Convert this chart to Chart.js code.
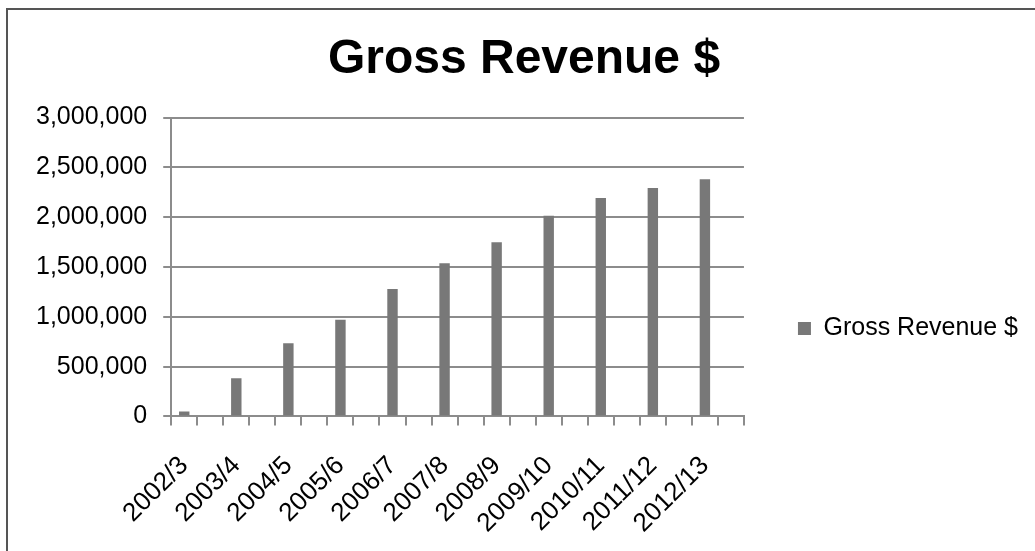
<!DOCTYPE html>
<html>
<head>
<meta charset="utf-8">
<title>Gross Revenue $</title>
<script src="https://cdn.jsdelivr.net/npm/chart.js@4"></script>
<style>
  html, body { margin: 0; padding: 0; background: #fff; }
  #wrap { position: relative; width: 1035px; height: 551px; overflow: hidden; }
  #frame { position: absolute; left: 6px; top: 8px; width: 1100px; height: 600px;
           border-left: 2px solid #555; border-top: 2px solid #555; pointer-events: none; }
  canvas { position: absolute; left: 0; top: 0; }
</style>
</head>
<body>
<div id="wrap">
  <canvas id="revenueChart" width="1035" height="551"></canvas>
  <div id="frame"></div>
</div>
<script>
// financial years and gross revenue
const categories = ['2002/3', '2003/4', '2004/5', '2005/6', '2006/7', '2007/8',
                    '2008/9', '2009/10', '2010/11', '2011/12', '2012/13'];
const revenue = [50000, 385000, 735000, 970000, 1280000, 1537000,
                 1750000, 2015000, 2192000, 2293000, 2380000];
const yTicks = [0, 500000, 1000000, 1500000, 2000000, 2500000, 3000000];

// the source sheet has a blank row after every year, so each year gets an empty slot
const slotLabels = categories.flatMap(c => [c, '']);
const slotValues = revenue.flatMap(v => [v, null]);

const fontFamily = '"Liberation Sans", Arial, sans-serif';
const gridGrey = '#8c8c8c';

const ctx = document.getElementById('revenueChart').getContext('2d');

window.revenueChart = new Chart(ctx, {
  type: 'bar',
  data: {
    labels: slotLabels,
    datasets: [
      {
        label: 'Gross Revenue $',
        data: slotValues,
        backgroundColor: '#787878',
        borderWidth: 0,
        categoryPercentage: 1.0,
        barPercentage: 0.4
      }
    ]
  },
  options: {
    responsive: false,
    animation: false,
    layout: {
      padding: { left: 20, right: 7, top: 0, bottom: -13 }
    },
    plugins: {
      title: {
        display: true,
        text: 'Gross Revenue $',
        color: '#000',
        font: { family: fontFamily, size: 48, weight: 'bold' },
        padding: { top: 31, bottom: 29 }
      },
      legend: {
        position: 'right',
        align: 'center',
        fullSize: false,
        maxWidth: 320,
        // empty title only pushes the legend entry down to where Excel put it
        title: {
          display: true,
          text: '',
          font: { size: 10 },
          padding: { top: 111, bottom: 0 }
        },
        labels: {
          color: '#000',
          font: { family: fontFamily, size: 25 },
          boxWidth: 13,
          boxHeight: 13,
          padding: 54
        }
      },
      tooltip: { enabled: false }
    },
    scales: {
      x: {
        grid: {
          display: true,
          drawOnChartArea: false,
          drawTicks: true,
          offset: true,
          tickLength: 9,
          color: gridGrey,
          lineWidth: 2
        },
        border: { color: gridGrey, width: 2 },
        ticks: {
          autoSkip: false,
          minRotation: 45,
          maxRotation: 45,
          padding: 25,
          color: '#000',
          font: { family: fontFamily, size: 26 }
        }
      },
      y: {
        min: 0,
        max: 3000000,
        afterBuildTicks: scale => {
          scale.ticks = yTicks.map(v => ({ value: v }));
        },
        grid: {
          color: gridGrey,
          lineWidth: 2,
          tickLength: 8
        },
        border: { color: gridGrey, width: 2 },
        ticks: {
          padding: 16,
          color: '#000',
          font: { family: fontFamily, size: 25 },
          callback: value => value.toLocaleString('en-US')
        }
      }
    }
  }
});
</script>
</body>
</html>
